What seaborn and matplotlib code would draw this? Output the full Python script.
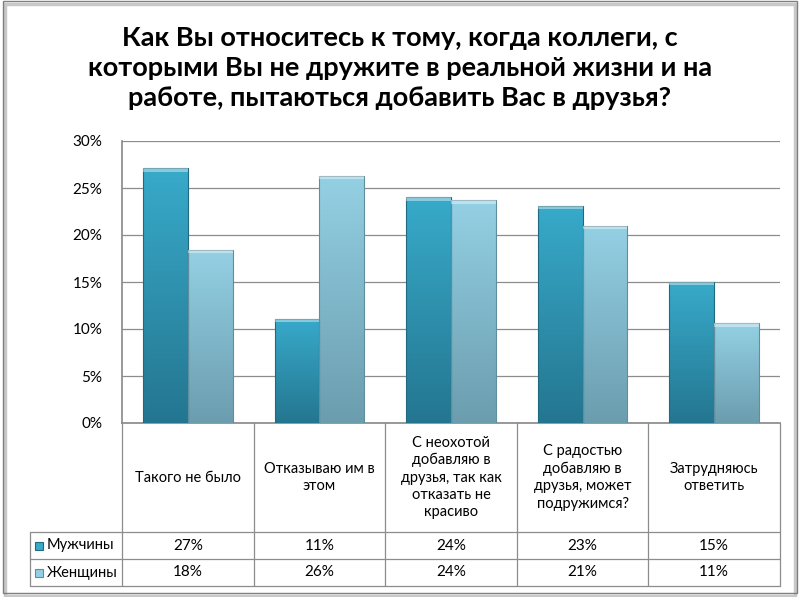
import numpy as np
import pandas as pd
import matplotlib
matplotlib.use("Agg")
import matplotlib.pyplot as plt
import seaborn as sns
from matplotlib.colors import LinearSegmentedColormap, to_rgb
from matplotlib.patches import Rectangle
from matplotlib.transforms import blended_transform_factory
from matplotlib.ticker import PercentFormatter

# ---------------- data ----------------
categories = [
    "Такого не было",
    "Отказываю им в\nэтом",
    "С неохотой\nдобавляю в\nдрузья, так как\nотказать не\nкрасиво",
    "С радостью\nдобавляю в\nдрузья, может\nподружимся?",
    "Затрудняюсь\nответить",
]
series_names = ["Мужчины", "Женщины"]
men = [0.271, 0.111, 0.240, 0.231, 0.150]
women = [0.184, 0.263, 0.237, 0.210, 0.106]
title = ("Как Вы относитесь к тому, когда коллеги, с\n"
         "которыми Вы не дружите в реальной жизни и на\n"
         "работе, пытаються добавить Вас в друзья?")
yticks = [0, 0.05, 0.10, 0.15, 0.20, 0.25, 0.30]

# ---------------- style ----------------
sns.set_theme(style="white")
plt.rcParams["font.family"] = ["Lato", "DejaVu Sans"]

base_colors = {"Мужчины": "#2F9AB8", "Женщины": "#86C3D7"}
grad_colors = {
    "Мужчины": ("#247690", "#38AACA"),   # bottom, top
    "Женщины": ("#6B9DAE", "#94D0E4"),
}
edge_colors = {"Мужчины": "#1F6A80", "Женщины": "#5F8E9E"}

W, H = 800, 597
fig = plt.figure(figsize=(W / 100, H / 100), dpi=100)

def fx(px):
    return px / W

def fy(py):
    return 1 - py / H

ax_left, ax_right, ax_top, ax_bottom = 122, 780, 141, 423
ax = fig.add_axes([fx(ax_left), fy(ax_bottom), fx(ax_right) - fx(ax_left),
                   fy(ax_top) - fy(ax_bottom)])

df = pd.DataFrame({
    "cat": categories * 2,
    "series": [series_names[0]] * len(categories) + [series_names[1]] * len(categories),
    "value": men + women,
})

sns.barplot(data=df, x="cat", y="value", hue="series", order=categories,
            hue_order=series_names, palette=base_colors, width=0.68,
            legend=False, ax=ax, saturation=1, zorder=3)

ax.set_xlim(-0.5, len(categories) - 0.5)
ax.set_ylim(0, 0.30)

# gradient fill for bars
grad = np.linspace(0, 1, 256).reshape(-1, 1)
patches = list(ax.patches)
for p in patches:
    fc = p.get_facecolor()[:3]
    name = min(series_names, key=lambda n: np.sum((np.array(to_rgb(base_colors[n])) - np.array(fc)) ** 2))
    bb = p.get_bbox()
    cmap = LinearSegmentedColormap.from_list("g", list(grad_colors[name]))
    im = ax.imshow(grad, extent=[bb.x0, bb.x1, bb.y0, bb.y1], origin="lower",
                   aspect="auto", cmap=cmap, zorder=3.5, interpolation="bicubic")
    im.set_clip_path(p)
    p.set_edgecolor(edge_colors[name])
    p.set_linewidth(0.8)
    p.set_zorder(3.6)
    p.set_facecolor("none")
    ax.add_patch(Rectangle((bb.x0, bb.y1 - 0.0035), bb.x1 - bb.x0, 0.0035,
                           facecolor="white", alpha=0.4, edgecolor="none", zorder=3.7))

ax.set_xlim(-0.5, len(categories) - 0.5)
ax.set_ylim(0, 0.30)

ax.set_yticks(yticks)
ax.yaxis.set_major_formatter(PercentFormatter(1.0, decimals=0))
ax.tick_params(axis="y", length=0, pad=14, labelsize=11, labelcolor="black")
ax.set_xticks([])
ax.set_xlabel("")
ax.set_ylabel("")
ax.grid(axis="y", color="#8C8C8C", linewidth=0.9, zorder=0)
for s in ["top", "right"]:
    ax.spines[s].set_visible(False)
ax.spines["left"].set_color("#8C8C8C")
ax.spines["bottom"].set_color("#8C8C8C")

# ---------------- data table ----------------
tr = blended_transform_factory(ax.transData, fig.transFigure)
line_kw = dict(color="#8C8C8C", linewidth=0.9)
row_top, row_cat_bottom, row1_bottom, row2_bottom = 423, 532, 559, 586
legend_left = 30
n = len(categories)

for i in range(n + 1):
    x = i - 0.5
    fig.add_artist(plt.Line2D([x, x], [fy(row_top), fy(row2_bottom)], transform=tr, **line_kw))
for yy in [row_cat_bottom, row1_bottom, row2_bottom]:
    fig.add_artist(plt.Line2D([fx(legend_left), fx(ax_right)], [fy(yy), fy(yy)],
                              transform=fig.transFigure, **line_kw))
fig.add_artist(plt.Line2D([fx(legend_left), fx(legend_left)], [fy(row_cat_bottom), fy(row2_bottom)],
                          transform=fig.transFigure, **line_kw))

for i, c in enumerate(categories):
    fig.text(i, fy((row_top + row_cat_bottom) / 2), c, transform=tr, ha="center",
             va="center", fontsize=10.5, linespacing=1.3, color="black")
    fig.text(i, fy((row_cat_bottom + row1_bottom) / 2), f"{men[i]:.0%}", transform=tr,
             ha="center", va="center", fontsize=11, color="black")
    fig.text(i, fy((row1_bottom + row2_bottom) / 2), f"{women[i]:.0%}", transform=tr,
             ha="center", va="center", fontsize=11, color="black")

for name, (y0, y1) in zip(series_names, [(row_cat_bottom, row1_bottom),
                                         (row1_bottom, row2_bottom)]):
    yc = (y0 + y1) / 2
    sq = 8
    fig.add_artist(Rectangle((fx(35), fy(yc + sq / 2)), sq / W, sq / H,
                             transform=fig.transFigure, facecolor=grad_colors[name][1],
                             edgecolor=edge_colors[name], linewidth=0.8))
    fig.text(fx(47), fy(yc), name, ha="left", va="center", fontsize=10.5, color="black")

# ---------------- title ----------------
fig.text(0.5, fy(68), title, ha="center", va="center", fontsize=19.5, fontweight="bold",
         linespacing=1.28, color="black")

# ---------------- frame ----------------
fig.add_artist(Rectangle((fx(5), fy(596)), fx(795) - fx(5), fy(4) - fy(596),
                         transform=fig.transFigure, facecolor="none",
                         edgecolor="#C8C8C8", linewidth=2.5, zorder=-1))
fig.add_artist(Rectangle((fx(3), fy(593)), fx(797) - fx(3), fy(1) - fy(593),
                         transform=fig.transFigure, facecolor="none",
                         edgecolor="#7F7F7F", linewidth=1.0))

fig.savefig("out.png", dpi=100)
